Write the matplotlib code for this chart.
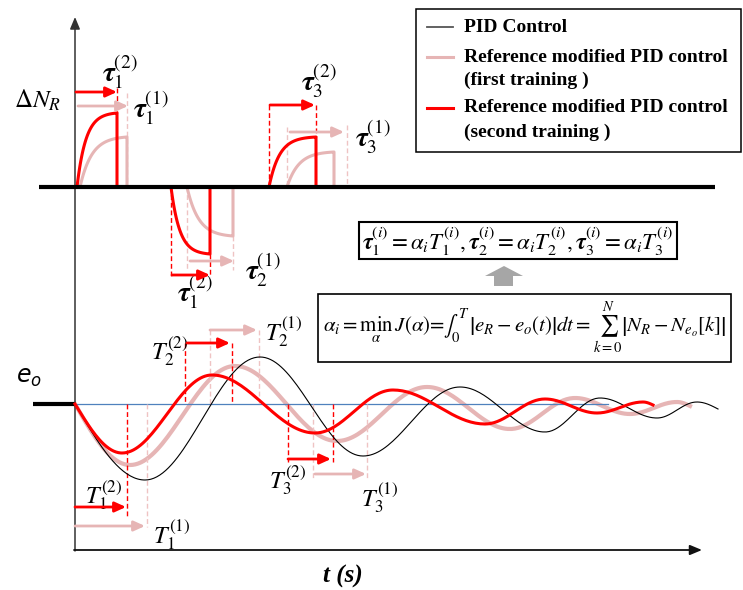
import numpy as np
import matplotlib.pyplot as plt
from matplotlib.patches import Rectangle, Polygon

plt.rcParams["mathtext.fontset"] = "stix"
plt.rcParams["font.family"] = ["Liberation Serif", "DejaVu Serif"]

RED = "#ff0000"
PINK = "#e6b5b5"
PINK_DASH = "#efc3c3"
BLUE = "#4f81bd"

# ---- values (t from the origin, values relative to each baseline) ----
# e_o responses: start point, every extremum, end point
PID_T = [0, 70, 185, 288, 385, 470, 525, 582, 622, 643]
PID_E = [0, -76, 47, -52, 17, -28, 6, -14, 2, -5]
FIRST_T = [0, 55, 160, 262, 352, 435, 500, 555, 602, 615]
FIRST_E = [0, -61, 38, -37, 17, -25, 6, -10, 2, -2]
SECOND_T = [0, 47, 137, 240, 318, 410, 470, 522, 568, 578]
SECOND_E = [0, -49, 29, -29, 14, -20, 5, -9, 2, -1]

# delta N_R pulses (start, end, height)
FIRST_START = [5, 112, 212]
FIRST_END = [52, 158, 259]
FIRST_H = [50, -49, 35]
SECOND_START = [2, 96, 194]
SECOND_END = [42, 135, 241]
SECOND_H = [74, -67, 50]

LEGEND_ROWS = ["PID Control", "Reference modified PID control", "(first training )",
               "Reference modified PID control", "(second training )"]

# layout (pixels)
X0 = 75
N_BASE = 187
E_BASE = 404


def wave(ts, es, n=40):
    xs, ys = [], []
    last = len(ts) - 2
    for i in range(len(ts) - 1):
        s = np.linspace(0, 1, n)
        if i == 0:
            w = np.sin(np.pi / 2 * s)
        elif i == last:
            w = 1 - np.cos(np.pi / 2 * s)
        else:
            w = (1 - np.cos(np.pi * s)) / 2
        xs.append(ts[i] + (ts[i + 1] - ts[i]) * s)
        ys.append(es[i] + (es[i + 1] - es[i]) * w)
    return X0 + np.concatenate(xs), E_BASE - np.concatenate(ys)


def pulse(t0, t1, h, k=4.0):
    s = np.linspace(0, 1, 60)
    y = h * (1 - np.exp(-k * s)) / (1 - np.exp(-k))
    x = t0 + (t1 - t0) * s
    return X0 + np.append(x, t1), N_BASE - np.append(y, 0)


def guide(ax, x, y0, y1, color):
    ax.plot([x, x], [y0, y1], color=color, lw=1.0, ls=(0, (3.5, 2)), zorder=2)


def harrow(ax, x0, x1, y, color):
    ax.annotate("", xy=(x1, y), xytext=(x0, y),
                arrowprops=dict(arrowstyle="-|>,head_length=0.55,head_width=0.25",
                                color=color, lw=2.0, shrinkA=0, shrinkB=0,
                                mutation_scale=12), zorder=5)


fig = plt.figure(figsize=(7.43, 5.90), dpi=100)
ax = fig.add_axes([0, 0, 1, 1])
ax.set_xlim(0, 743)
ax.set_ylim(590, 0)
ax.axis("off")

# axes
ax.annotate("", xy=(X0, 17), xytext=(X0, 551),
            arrowprops=dict(arrowstyle="-|>,head_length=0.6,head_width=0.25",
                            color="#333333", lw=1.1, shrinkA=0, shrinkB=0, mutation_scale=12))
ax.annotate("", xy=(702, 550), xytext=(X0 - 1, 550),
            arrowprops=dict(arrowstyle="-|>,head_length=0.6,head_width=0.25",
                            color="#111111", lw=1.3, shrinkA=0, shrinkB=0, mutation_scale=12))
ax.plot([39, 715], [N_BASE, N_BASE], color="black", lw=3, zorder=6, solid_capstyle="butt")
ax.plot([33, X0], [E_BASE, E_BASE], color="black", lw=3, solid_capstyle="butt")
ax.plot([X0, 608], [E_BASE, E_BASE], color=BLUE, lw=0.9, zorder=2)

# delta N_R pulses
for t0, t1, h in zip(FIRST_START, FIRST_END, FIRST_H):
    x, y = pulse(t0, t1, h, 4.0)
    ax.plot(x, y, color=PINK, lw=2.2, zorder=3)
for t0, t1, h in zip(SECOND_START, SECOND_END, SECOND_H):
    x, y = pulse(t0, t1, h, 4.5)
    ax.plot(x, y, color=RED, lw=2.2, zorder=4)

# e_o responses
x, y = wave(FIRST_T, FIRST_E)
ax.plot(x, y, color=PINK, lw=3.0, zorder=1.5)
x, y = wave(PID_T, PID_E)
ax.plot(x, y, color="black", lw=0.8, zorder=3)
x, y = wave(SECOND_T, SECOND_E)
ax.plot(x, y, color=RED, lw=2.2, zorder=4)

# dashed guides
for gx, a, b in [(117, 88, 113), (171, 187, 277), (210, 254, 277), (269, 105, 187),
                 (316, 105, 137), (127, 404, 517), (185, 343, 404), (232, 343, 404),
                 (288, 404, 462), (333, 404, 462)]:
    guide(ax, gx, a, b, RED)
for gx, a, b in [(127, 93, 187), (187, 187, 270), (233, 236, 270), (287, 127, 187),
                 (347, 125, 187), (147, 404, 527), (210, 330, 404), (259, 330, 404),
                 (313, 404, 478), (367, 404, 478)]:
    guide(ax, gx, a, b, PINK_DASH)

# interval arrows
for a, b, yy in [(76, 117, 92), (172, 210, 275), (270, 315, 105),
                 (75, 126, 507), (187, 230, 343), (288, 331, 459)]:
    harrow(ax, a, b, yy, RED)
for a, b, yy in [(78, 128, 106), (190, 234, 261), (290, 344, 132),
                 (75, 145, 526), (210, 257, 330), (315, 366, 474)]:
    harrow(ax, a, b, yy, PINK)

# labels
tau = r"\boldsymbol{\tau}"
for s, (lx, ly) in [(r"$%s_1^{(2)}$" % tau, (120, 72)), (r"$%s_1^{(1)}$" % tau, (151, 108)),
                    (r"$%s_1^{(2)}$" % tau, (195, 292)), (r"$%s_2^{(1)}$" % tau, (263, 270)),
                    (r"$%s_3^{(2)}$" % tau, (319, 81)), (r"$%s_3^{(1)}$" % tau, (373, 137))]:
    ax.text(lx, ly, s, fontsize=20, ha="center", va="center")
for s, (lx, ly) in [(r"$T_1^{(2)}$", (104, 495)), (r"$T_1^{(1)}$", (172, 535)),
                    (r"$T_2^{(2)}$", (170, 351)), (r"$T_2^{(1)}$", (284, 332)),
                    (r"$T_3^{(2)}$", (288, 480)), (r"$T_3^{(1)}$", (380, 498))]:
    ax.text(lx, ly, s, fontsize=17.5, ha="center", va="center")

ax.text(38, 100, r"$\Delta N_R$", fontsize=18, ha="center", va="center")
ax.text(29, 378, r"$\mathit{e}_{\mathit{o}}$", fontsize=17, ha="center", va="center",
        math_fontfamily="dejavusans")
ax.text(343, 576, "t (s)", fontsize=18, fontweight="bold", fontstyle="italic",
        ha="center", va="center")

# legend
ax.add_patch(Rectangle((416, 9), 325, 143, fill=False, ec="black", lw=1.1, zorder=7))
for yy, c, lw in [(27, "#555555", 1.3), (57, PINK, 2.2), (108, RED, 2.2)]:
    ax.plot([427, 453], [yy, yy], color=c, lw=lw, zorder=7)
for yy, s in zip([27, 57, 80, 108, 132], LEGEND_ROWS):
    ax.text(464, yy, s, fontsize=14, fontweight="bold", ha="left", va="center", zorder=7)

# equation boxes
ax.add_patch(Rectangle((359, 222), 318, 37, fill=False, ec="black", lw=1.5))
ax.text(518, 241, r"$%s_1^{(i)}=\alpha_i T_1^{(i)},%s_2^{(i)}=\alpha_i T_2^{(i)},"
                  r"%s_3^{(i)}=\alpha_i T_3^{(i)}$" % (tau, tau, tau),
        fontsize=16.5, ha="center", va="center")
ax.add_patch(Polygon([(494, 286), (494, 276), (485, 276), (504, 266), (523, 276),
                      (513, 276), (513, 286)], closed=True, fc="#a6a6a6", ec="none"))
ax.add_patch(Rectangle((318, 294), 413, 68, fill=False, ec="black", lw=1.2))
ax.text(525, 328, r"$\alpha_i=\min_{\alpha}\,J(\alpha)=\int_0^T\left|e_R-e_o(t)\right|dt="
                  r"\sum_{k=0}^{N}\left|N_R-N_{e_o}[k]\right|$",
        fontsize=15, ha="center", va="center")

fig.savefig("out.png", dpi=100)
